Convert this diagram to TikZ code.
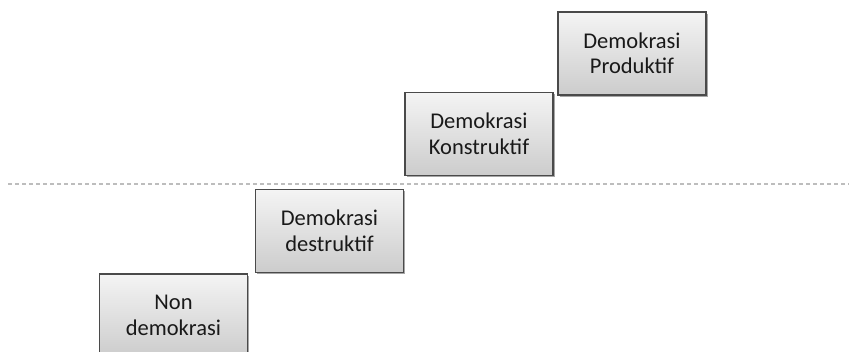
\documentclass[tikz,border=0pt]{standalone}
\usepackage{fontspec}
\setmainfont{Carlito}
\usetikzlibrary{shadows}
\definecolor{boxline}{HTML}{4A4A4A}
\definecolor{boxtop}{HTML}{F4F4F4}
\definecolor{boxbot}{HTML}{CCCCCC}
\definecolor{dashcol}{HTML}{BDBDBD}
\tikzset{
  stepbox/.style={draw=boxline, line width=1.1pt, top color=boxtop, bottom color=boxbot,
    minimum width=148pt, minimum height=83pt, inner sep=0pt, align=center,
    font=\fontsize{22.5}{25.5}\selectfont, text=black!90,
    drop shadow={shadow xshift=1.5pt, shadow yshift=-1.5pt, opacity=0.35, fill=black}},
  divider/.style={draw=dashcol, line width=1.5pt, dash pattern=on 4pt off 3pt}
}
\begin{document}
\begin{tikzpicture}[x=1pt,y=1pt]
\useasboundingbox (0,0) rectangle (849,-351);
\clip (0,0) rectangle (849,-351);
\coordinate (dl) at (8,-184);
\coordinate (dr) at (849,-184);
\draw[divider] (dl) -- (dr);
\node[stepbox] (n1) at (173.5,-315.5) {Non\\demokrasi};
\node[stepbox] (n2) at (329.5,-231) {Demokrasi\\destruktif};
\node[stepbox] (n3) at (479,-134) {Demokrasi\\Konstruktif};
\node[stepbox] (n4) at (632,-53.5) {Demokrasi\\Produktif};
\end{tikzpicture}
\end{document}
